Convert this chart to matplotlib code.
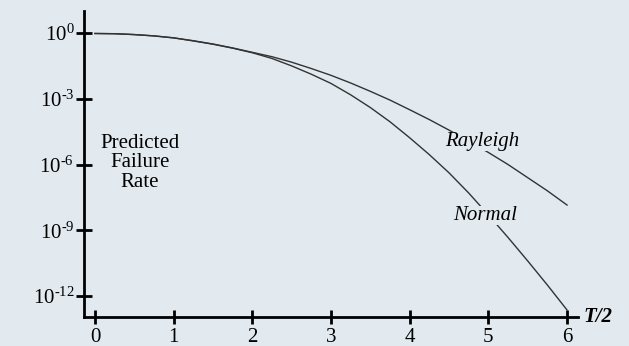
import numpy as np
import matplotlib.pyplot as plt

plt.rcParams['font.family'] = 'serif'
plt.rcParams['font.serif'] = ['Liberation Serif', 'DejaVu Serif']
plt.rcParams['mathtext.fontset'] = 'custom'
plt.rcParams['mathtext.rm'] = 'Liberation Serif'
plt.rcParams['mathtext.it'] = 'Liberation Serif:italic'
plt.rcParams['axes.unicode_minus'] = False

# values (log10 of predicted failure rate)
t_half = [0, 0.25, 0.5, 0.75, 1, 1.25, 1.5, 1.75, 2, 2.25, 2.5, 2.75, 3,
          3.25, 3.5, 3.75, 4, 4.25, 4.5, 4.75, 5, 5.25, 5.5, 5.75, 6]
rayleigh_log = [-0.02, -0.03, -0.07, -0.13, -0.22, -0.35, -0.5, -0.68, -0.88, -1.08,
                -1.33, -1.62, -1.93, -2.28, -2.66, -3.06, -3.5, -3.95, -4.43, -4.93,
                -5.45, -6.0, -6.6, -7.2, -7.85]
normal_log = [-0.02, -0.03, -0.07, -0.13, -0.22, -0.36, -0.51, -0.69, -0.9, -1.16,
              -1.5, -1.88, -2.3, -2.82, -3.4, -4.05, -4.78, -5.55, -6.38, -7.3,
              -8.3, -9.33, -10.4, -11.5, -12.64]

y_ticks = [1e0, 1e-3, 1e-6, 1e-9, 1e-12]
y_labels = [r'$\mathregular{10^{0}}$', r'$\mathregular{10^{\text{-}3}}$',
            r'$\mathregular{10^{\text{-}6}}$', r'$\mathregular{10^{\text{-}9}}$',
            r'$\mathregular{10^{\text{-}12}}$']
x_ticks = [0, 1, 2, 3, 4, 5, 6]

bg = '#e2eaf0'

fig = plt.figure(figsize=(6.29, 3.46), dpi=100, facecolor=bg)
ax = fig.add_axes([0.1335, 0.0838, 0.7855, 0.884])
ax.set_facecolor(bg)

ax.semilogy(t_half, 10.0 ** np.array(rayleigh_log), color='#333333', lw=1)
ax.semilogy(t_half, 10.0 ** np.array(normal_log), color='#333333', lw=1)

ax.set_xlim(-0.14, 6.14)
ax.set_ylim(10 ** -12.96, 10 ** 1.0)

for s in ['top', 'right']:
    ax.spines[s].set_visible(False)
for s in ['left', 'bottom']:
    ax.spines[s].set_linewidth(2)

ax.set_yticks(y_ticks)
ax.set_yticklabels(y_labels)
ax.minorticks_off()
ax.set_xticks(x_ticks)
ax.tick_params(axis='y', direction='inout', length=12, width=2, pad=1, labelsize=15)
ax.tick_params(axis='x', direction='inout', length=10, width=2, pad=3, labelsize=15)

box = dict(facecolor=bg, edgecolor='none', pad=0)
ax.text(0.57, 10 ** -5.93, 'Predicted\nFailure\nRate', ha='center', va='center',
        fontsize=15, linespacing=1.05)
ax.text(4.92, 10 ** -4.93, 'Rayleigh', style='italic', ha='center', va='center',
        fontsize=15, bbox=box)
ax.text(4.96, 10 ** -8.35, 'Normal', style='italic', ha='center', va='center',
        fontsize=15, bbox=box)
ax.text(1.01, 0, 'T/2', transform=ax.transAxes, style='italic', weight='bold',
        ha='left', va='center', fontsize=15)

fig.savefig('out.png', dpi=100, facecolor=bg)
